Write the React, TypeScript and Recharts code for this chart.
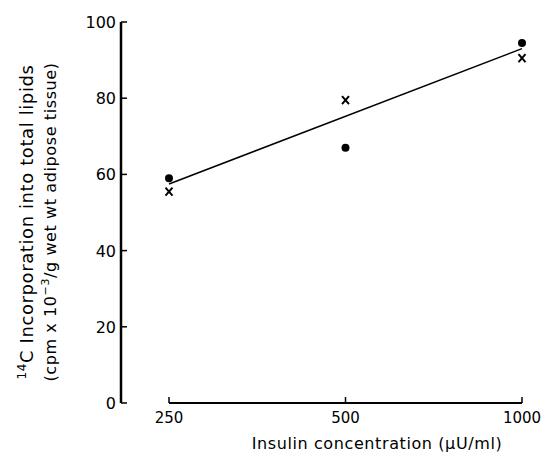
import { ScatterChart, Scatter, XAxis, YAxis } from 'recharts'

const concentrations = [250, 500, 1000]
const dotValues = [59, 67, 94.5]
const crossValues = [55.5, 79.5, 90.5]
const fitConcentrations = [250, 1000]
const fitValues = [57.5, 93]
const yTicks = [0, 20, 40, 60, 80, 100]

const dotData = concentrations.map((c, i) => ({ x: c, y: dotValues[i] }))
const crossData = concentrations.map((c, i) => ({ x: c, y: crossValues[i] }))
const fitData = fitConcentrations.map((c, i) => ({ x: c, y: fitValues[i] }))

const FONT = 'DejaVu Sans, sans-serif'

const Cross = (props: any) => {
  const { cx, cy } = props
  return (
    <path
      d={`M${cx - 3.5},${cy - 4}L${cx + 3.5},${cy + 4}M${cx + 3.5},${cy - 4}L${cx - 3.5},${cy + 4}`}
      stroke="#000"
      strokeWidth={2}
    />
  )
}

const Dot = (props: any) => <circle cx={props.cx} cy={props.cy} r={4} fill="#000" />

const Nothing = () => <g />

const XTick = (props: any) => {
  const { x, y, payload } = props
  return (
    <g>
      <line x1={x} y1={y} x2={x} y2={y - 6} stroke="#000" strokeWidth={1.5} />
      <text x={x} y={y + 20} textAnchor="middle" fontFamily={FONT} fontSize={15} fill="#000">
        {payload.value}
      </text>
    </g>
  )
}

const YTick = (props: any) => {
  const { x, y, payload } = props
  return (
    <g>
      <line x1={x} y1={y} x2={x + 6} y2={y} stroke="#000" strokeWidth={1.5} />
      <text x={x - 5} y={y + 6} textAnchor="end" fontFamily={FONT} fontSize={16} fill="#000">
        {payload.value}
      </text>
    </g>
  )
}

const XLabel = () => (
  <text x={377} y={449} textAnchor="middle" fontFamily={FONT} fontSize={16} letterSpacing={0.6} fill="#000">
    Insulin concentration (μU/ml)
  </text>
)

const YLabel = () => (
  <g fontFamily={FONT} letterSpacing={0.6} fill="#000">
    <text transform="translate(33,222) rotate(-90)" textAnchor="middle" fontSize={18}>
      <tspan fontSize={12} dy={-7}>14</tspan>
      <tspan dy={7}>C Incorporation into total lipids</tspan>
    </text>
    <text transform="translate(56,222) rotate(-90)" textAnchor="middle" fontSize={16}>
      <tspan>(cpm x 10</tspan>
      <tspan fontSize={11} dy={-7}>−3</tspan>
      <tspan dy={7}>/g wet wt adipose tissue)</tspan>
    </text>
  </g>
)

export default function App() {
  return (
    <div style={{ position: 'absolute', left: 0, top: 0, background: '#fff' }}>
      <ScatterChart width={541} height={462} margin={{ top: 22, right: 19, bottom: 0, left: 0 }}>
        <XAxis
          dataKey="x"
          type="number"
          scale="log"
          domain={[250, 1000]}
          ticks={concentrations}
          axisLine={{ stroke: '#000', strokeWidth: 2 }}
          tickLine={false}
          height={59}
          tick={<XTick />}
          tickSize={0}
          tickMargin={0}
          label={<XLabel />}
        />
        {/* empty spacer axis: leaves the gap between the y axis and the 250 column */}
        <YAxis
          yAxisId="gap"
          type="number"
          domain={[0, 100]}
          width={48}
          axisLine={false}
          tickLine={false}
          tick={false}
        />
        <YAxis
          yAxisId="main"
          dataKey="y"
          type="number"
          domain={[0, 100]}
          ticks={yTicks}
          width={121}
          axisLine={{ stroke: '#000', strokeWidth: 2.5 }}
          tickLine={false}
          tickSize={0}
          tickMargin={0}
          tick={<YTick />}
          label={<YLabel />}
        />
        <Scatter yAxisId="main" data={fitData} line={{ stroke: '#000', strokeWidth: 1.5 }} shape={<Nothing />} isAnimationActive={false} />
        <Scatter yAxisId="main" data={dotData} shape={<Dot />} isAnimationActive={false} />
        <Scatter yAxisId="main" data={crossData} shape={<Cross />} isAnimationActive={false} />
      </ScatterChart>
    </div>
  )
}
